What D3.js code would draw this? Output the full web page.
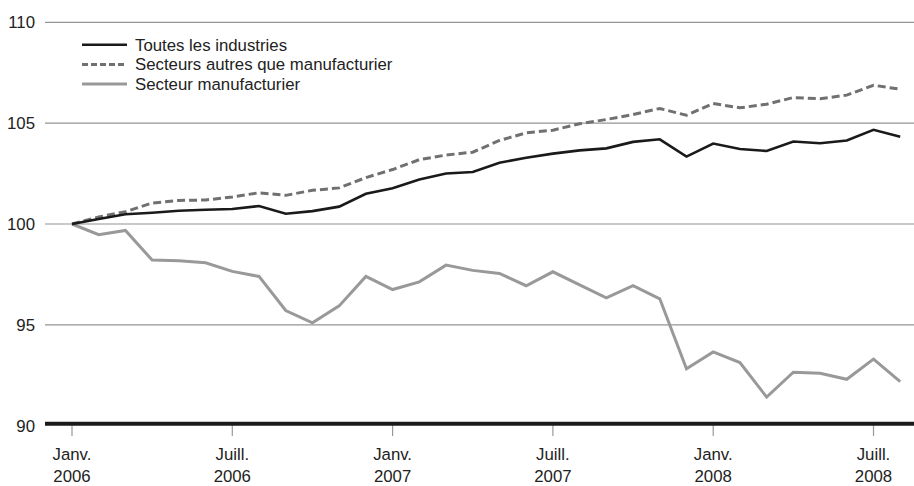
<!DOCTYPE html>
<html><head><meta charset="utf-8">
<script src="https://cdn.jsdelivr.net/npm/d3@7"></script>
<style>body{margin:0;background:#fff}svg{display:block}text{font-family:"Liberation Sans",Arial,sans-serif}</style>
</head><body>
<svg id="c" width="914" height="486"></svg>
<script>
// months from Jan 2006 (index 0) to Aug 2008 (index 31)
const months = d3.range(32);
const toutes = [100,100.25,100.48,100.56,100.66,100.71,100.74,100.89,100.51,100.64,100.86,101.50,101.77,102.21,102.5,102.58,103.04,103.28,103.49,103.65,103.75,104.07,104.20,103.34,103.99,103.72,103.62,104.09,104.00,104.14,104.67,104.33];
const autres = [100,100.35,100.61,101.04,101.17,101.19,101.34,101.55,101.42,101.67,101.79,102.30,102.70,103.19,103.42,103.56,104.14,104.52,104.65,104.97,105.18,105.43,105.73,105.39,105.97,105.76,105.94,106.27,106.21,106.39,106.88,106.68];
const manuf = [100,99.47,99.68,98.21,98.18,98.08,97.65,97.40,95.71,95.10,95.94,97.40,96.75,97.13,97.96,97.70,97.55,96.94,97.63,96.98,96.34,96.94,96.29,92.82,93.66,93.13,91.42,92.65,92.60,92.30,93.30,92.19];
const yTicks = [90,95,100,105,110];
const xTickIdx = [0,6,12,18,24,30];
const xTickLabels = [["Janv.","2006"],["Juill.","2006"],["Janv.","2007"],["Juill.","2007"],["Janv.","2008"],["Juill.","2008"]];
const seriesNames = ["Toutes les industries","Secteurs autres que manufacturier","Secteur manufacturier"];

const svg = d3.select("#c");
const x = d3.scaleLinear().domain([0,30]).range([72,873.5]);
const y = d3.scaleLinear().domain([90,110]).range([425.7,22.3]);
const FS = 16.8;

// gridlines
svg.append("g").selectAll("line").data(yTicks.filter(v=>v>90)).join("line")
  .attr("x1",45).attr("x2",914).attr("y1",d=>y(d)).attr("y2",d=>y(d))
  .attr("stroke","#949494").attr("stroke-width",1.2);
// y labels
svg.append("g").selectAll("text").data(yTicks).join("text")
  .attr("x",35).attr("y",d=>y(d)+6).attr("text-anchor","end")
  .attr("font-size",FS).attr("fill","#222").text(d=>d);

// x ticks
svg.append("g").selectAll("line").data(xTickIdx).join("line")
  .attr("x1",d=>x(d)).attr("x2",d=>x(d)).attr("y1",424).attr("y2",436)
  .attr("stroke","#999").attr("stroke-width",1.2);
const xl = svg.append("g").selectAll("text").data(xTickIdx).join("text")
  .attr("text-anchor","middle").attr("font-size",FS).attr("fill","#222");
xl.append("tspan").attr("x",d=>x(d)).attr("y",460).text((d,i)=>xTickLabels[i][0]);
xl.append("tspan").attr("x",d=>x(d)).attr("y",481.5).text((d,i)=>xTickLabels[i][1]);

// baseline axis
svg.append("line").attr("x1",45).attr("x2",914).attr("y1",y(90)-2).attr("y2",y(90)-2)
  .attr("stroke","#1a1a1a").attr("stroke-width",4);

const line = d3.line().x((d,i)=>x(i)).y(d=>y(d));
const styles = [
  {data:manuf, stroke:"#999999", w:3, dash:null},
  {data:autres, stroke:"#707070", w:3, dash:"8,4"},
  {data:toutes, stroke:"#1a1a1a", w:2.6, dash:null}
];
styles.forEach(s=>{
  svg.append("path").datum(s.data).attr("d",line).attr("fill","none")
    .attr("stroke",s.stroke).attr("stroke-width",s.w).attr("stroke-linejoin","miter")
    .attr("stroke-dasharray",s.dash);
});

// legend
const leg = [
  {name:seriesNames[0], stroke:"#1a1a1a", w:2.6, dash:null},
  {name:seriesNames[1], stroke:"#707070", w:3, dash:"6,3"},
  {name:seriesNames[2], stroke:"#999999", w:3, dash:null}
];
const lg = svg.append("g").selectAll("g").data(leg).join("g")
  .attr("transform",(d,i)=>`translate(0,${44.7+i*19.7})`);
lg.append("line").attr("x1",82).attr("x2",127).attr("y1",0).attr("y2",0)
  .attr("stroke",d=>d.stroke).attr("stroke-width",d=>d.w).attr("stroke-dasharray",d=>d.dash);
lg.append("text").attr("x",135).attr("y",6).attr("font-size",FS).attr("fill","#222").text(d=>d.name);
</script>
</body></html>
